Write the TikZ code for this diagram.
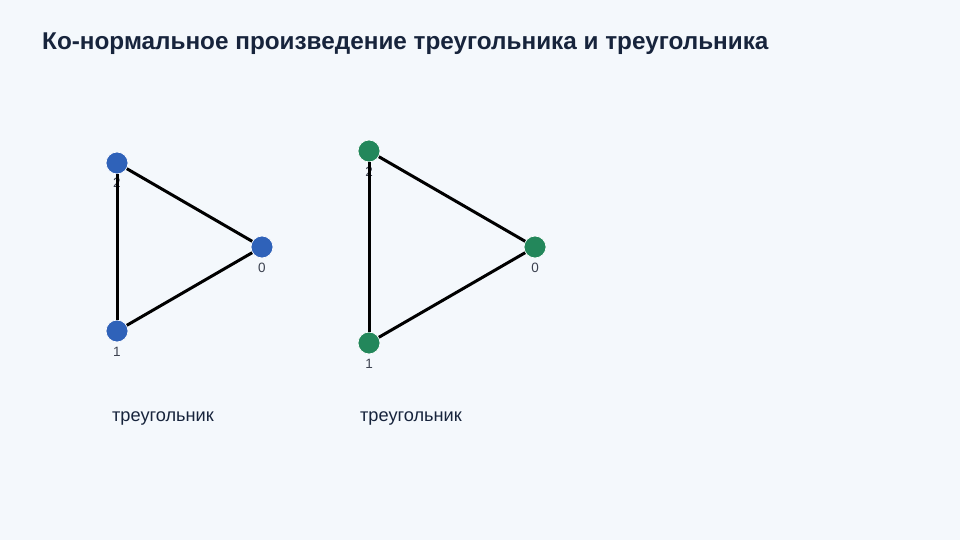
\documentclass[tikz,border=0pt]{standalone}
\usepackage{fontspec}
\setmainfont{Liberation Sans}
\begin{document}
\begin{tikzpicture}[x=1pt,y=-1pt,
  vblue/.style={circle,fill=nodeblue,draw=white,line width=0.7pt,minimum size=22pt,inner sep=0pt},
  vgreen/.style={circle,fill=nodegreen,draw=white,line width=0.7pt,minimum size=22pt,inner sep=0pt},
  vlab/.style={font=\fontsize{13.5}{15}\selectfont,text=labgray,inner sep=0pt},
  edge/.style={line width=3pt,black},
  caption/.style={font=\fontsize{18.2}{21}\selectfont,text=titlecol,inner sep=0pt,anchor=base}]
\definecolor{bg}{HTML}{F4F8FC}
\definecolor{nodeblue}{HTML}{2F62B9}
\definecolor{nodegreen}{HTML}{23875B}
\definecolor{titlecol}{HTML}{17243C}
\definecolor{labgray}{HTML}{3C4250}
\fill[bg] (0,0) rectangle (960,540);
\useasboundingbox (0,0) rectangle (960,540);
\node[anchor=base west,font=\bfseries\fontsize{24.3}{28}\selectfont,text=titlecol,inner sep=0pt] (title) at (42,50) {Ко-нормальное произведение треугольника и треугольника};
% labels (below edges)
\node[vlab] (lb2) at (117,183) {2};
\node[vlab] (lb0) at (262,268) {0};
\node[vlab] (lb1) at (117,352) {1};
\node[vlab] (lg2) at (369,172) {2};
\node[vlab] (lg0) at (535,268) {0};
\node[vlab] (lg1) at (369,364) {1};
% nodes
\node[vblue] (b2) at (117,163) {};
\node[vblue] (b0) at (262,247) {};
\node[vblue] (b1) at (117,331) {};
\node[vgreen] (g2) at (369,151) {};
\node[vgreen] (g0) at (535,247) {};
\node[vgreen] (g1) at (369,343) {};
% edges
\draw[edge] (b2) -- (b0);
\draw[edge] (b0) -- (b1);
\draw[edge] (b1) -- (b2);
\draw[edge] (g2) -- (g0);
\draw[edge] (g0) -- (g1);
\draw[edge] (g1) -- (g2);
% captions
\node[caption] (cb) at (163,421) {треугольник};
\node[caption] (cg) at (411,421) {треугольник};
\end{tikzpicture}
\end{document}
